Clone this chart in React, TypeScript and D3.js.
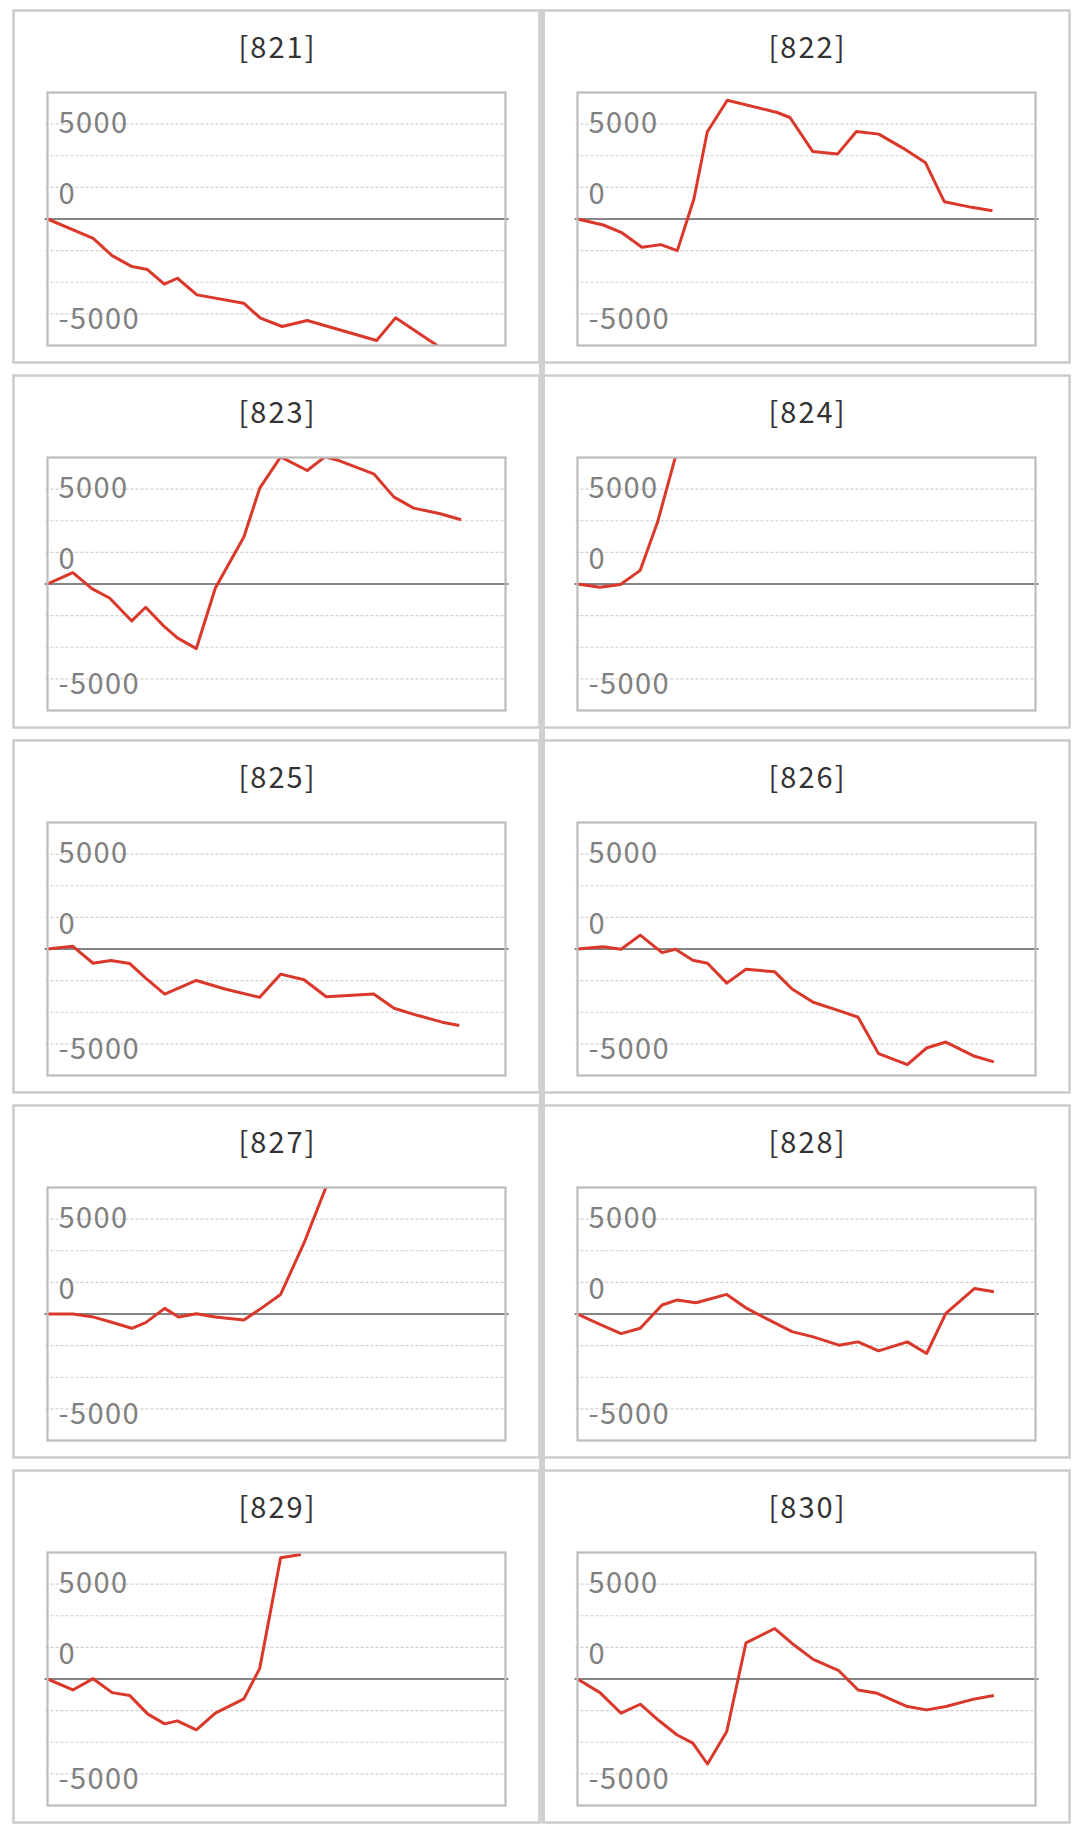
import React, { useEffect, useRef } from "react";
import * as d3 from "d3";

// machine numbers, one panel each (two columns, five rows)
const machineIds = ["821", "822", "823", "824", "825", "826", "827", "828", "829", "830"];

// games played (x) and coin difference (y) per machine
const games821 = [0, 798, 1128, 1476, 1746, 2040, 2269, 2611, 3427, 3721, 4099, 4537, 5749, 6080, 6980];
const diff821 = [0, -1017, -1930, -2508, -2666, -3438, -3122, -3999, -4438, -5227, -5666, -5350, -6402, -5209, -7016];

const games822 = [0, 451, 782, 1125, 1456, 1744, 2033, 2268, 2617, 3489, 3711, 4108, 4541, 4872, 5263, 5684, 6075, 6406, 6887, 7248];
const diff822 = [0, -316, -737, -1491, -1351, -1666, 1052, 4596, 6262, 5613, 5350, 3561, 3420, 4613, 4473, 3736, 2982, 912, 614, 439];

const games823 = [0, 443, 775, 1084, 1472, 1715, 2047, 2268, 2600, 2932, 3430, 3707, 4072, 4537, 4846, 5090, 5698, 6053, 6396, 6860, 7225];
const diff823 = [0, 596, -246, -737, -1947, -1228, -2263, -2842, -3403, -210, 2473, 5052, 6700, 5981, 6700, 6507, 5806, 4578, 3999, 3701, 3385];

const games824 = [0, 392, 750, 1096, 1399, 1790];
const diff824 = [0, -175, -30, 719, 3262, 7577];

const games825 = [0, 443, 797, 1107, 1438, 1715, 2047, 2600, 3098, 3707, 4072, 4481, 4869, 5698, 6053, 6473, 6894, 7192];
const diff825 = [0, 140, -750, -611, -768, -1536, -2373, -1658, -2111, -2548, -1326, -1623, -2513, -2373, -3124, -3508, -3856, -4031];

const games826 = [0, 448, 761, 1096, 1477, 1712, 2014, 2271, 2607, 2943, 3446, 3748, 4117, 4565, 4901, 5259, 5762, 6098, 6434, 6937, 7273];
const diff826 = [0, 122, -17, 733, -192, -17, -593, -750, -1797, -1064, -1204, -2111, -2809, -3246, -3595, -5514, -6090, -5218, -4903, -5654, -5950];

const games827 = [0, 443, 775, 1107, 1472, 1715, 2047, 2290, 2600, 2932, 3430, 3707, 4072, 4481, 4924];
const diff827 = [0, 0, -140, -420, -752, -455, 297, -157, 17, -157, -315, 245, 1032, 3743, 7136];

const games828 = [0, 392, 761, 1096, 1477, 1734, 2070, 2607, 2965, 3301, 3748, 4117, 4565, 4901, 5259, 5762, 6098, 6434, 6937, 7273];
const diff828 = [0, -542, -1032, -752, 472, 735, 595, 1032, 280, -245, -927, -1207, -1644, -1469, -1941, -1469, -2081, 35, 1347, 1172];

const games829 = [0, 443, 797, 1129, 1438, 1748, 2047, 2268, 2600, 2932, 3430, 3707, 4072, 4426];
const diff829 = [0, -578, 17, -718, -875, -1838, -2363, -2205, -2678, -1803, -1050, 560, 6388, 6563];

const games830 = [0, 392, 761, 1096, 1421, 1734, 2014, 2271, 2607, 2943, 3446, 3748, 4117, 4565, 4901, 5236, 5762, 6098, 6434, 6937, 7273];
const diff830 = [0, -718, -1803, -1330, -2188, -2940, -3378, -4480, -2765, 1908, 2660, 1873, 1033, 438, -578, -753, -1453, -1628, -1453, -1050, -875];

const gamesList = [games821, games822, games823, games824, games825, games826, games827, games828, games829, games830];
const diffList = [diff821, diff822, diff823, diff824, diff825, diff826, diff827, diff828, diff829, diff830];

// axis
const gameDomain = [0, 8000];
const diffDomain = [-20000 / 3, 20000 / 3];
const gridStep = 5000 / 3;
const yLabelValues = [5000, 0, -5000];
const yLabelTexts = ["5000", "0", "-5000"];

const WIDTH = 1081;
const HEIGHT = 1831;

const SlotGraphs: React.FC = () => {
  const svgRef = useRef<SVGSVGElement>(null);

  useEffect(() => {
    if (!svgRef.current) return;
    const svg = d3.select(svgRef.current);
    svg.selectAll("*").remove();

    const font = "'Noto Sans CJK JP', 'Noto Sans', sans-serif";
    const panelW = 526;
    const panelH = 352;
    const colPitch = 530;
    const rowPitch = 365;
    const plotLeft = 34; // relative to panel
    const plotTop = 82;
    const plotW = 458;
    const plotH = 253;
    // baseline offsets for the y labels (they sit a little off their lines)
    const labelShift = [9, -15.5, 15.5];

    svg.append("rect").attr("width", WIDTH).attr("height", HEIGHT).attr("fill", "#fff");

    const defs = svg.append("defs");

    machineIds.forEach((id, i) => {
      const col = i % 2;
      const row = Math.floor(i / 2);
      const px = 13.5 + col * colPitch;
      const py = 10.5 + row * rowPitch;

      const g = svg.append("g").attr("transform", `translate(${px}, ${py})`);

      // panel frame
      g.append("rect")
        .attr("width", panelW)
        .attr("height", panelH)
        .attr("fill", "#fff")
        .attr("stroke", "#cccccc")
        .attr("stroke-width", 2.5);

      // title
      g.append("text")
        .attr("x", panelW / 2 + 1)
        .attr("y", 47)
        .attr("text-anchor", "middle")
        .style("font-family", font)
        .style("font-size", "29px")
        .style("letter-spacing", "2px")
        .style("fill", "#333")
        .text(`[${id}]`);

      const x = d3.scaleLinear().domain(gameDomain).range([plotLeft, plotLeft + plotW]);
      const y = d3.scaleLinear().domain(diffDomain).range([plotTop + plotH, plotTop]);

      // dashed gridlines
      const grid = d3.range(-3, 4).filter((k) => k !== 0).map((k) => k * gridStep);
      g.selectAll(".grid")
        .data(grid)
        .enter()
        .append("line")
        .attr("class", "grid")
        .attr("x1", plotLeft - 2)
        .attr("x2", plotLeft + plotW)
        .attr("y1", (d) => y(d))
        .attr("y2", (d) => y(d))
        .attr("stroke", "#d0d0d0")
        .attr("stroke-width", 1.2)
        .attr("stroke-dasharray", "3,2");

      // y labels
      g.selectAll(".ylab")
        .data(yLabelValues)
        .enter()
        .append("text")
        .attr("class", "ylab")
        .attr("x", plotLeft + 11)
        .attr("y", (d, k) => y(d) + labelShift[k])
        .style("font-family", font)
        .style("font-size", "29px")
        .style("letter-spacing", "1.4px")
        .style("fill", "#808080")
        .text((d, k) => yLabelTexts[k]);

      // zero baseline
      g.append("line")
        .attr("x1", plotLeft - 3)
        .attr("x2", plotLeft + plotW + 3)
        .attr("y1", y(0))
        .attr("y2", y(0))
        .attr("stroke", "#858585")
        .attr("stroke-width", 2.2);

      // series line, clipped to the plot (clip rect in the group's own coordinates)
      const clipId = `clip-${id}`;
      defs.append("clipPath")
        .attr("id", clipId)
        .append("rect")
        .attr("x", plotLeft)
        .attr("y", plotTop)
        .attr("width", plotW)
        .attr("height", plotH);

      const games = gamesList[i];
      const diffs = diffList[i];
      const pts: [number, number][] = games.map((gm, k) => [gm, diffs[k]]);
      const line = d3
        .line<[number, number]>()
        .x((d) => x(d[0]))
        .y((d) => y(d[1]));

      g.append("path")
        .attr("clip-path", `url(#${clipId})`)
        .datum(pts)
        .attr("d", line)
        .attr("fill", "none")
        .attr("stroke", "#d9382b")
        .attr("stroke-width", 3)
        .attr("stroke-linejoin", "round");

      // plot frame on top
      g.append("rect")
        .attr("x", plotLeft)
        .attr("y", plotTop)
        .attr("width", plotW)
        .attr("height", plotH)
        .attr("fill", "none")
        .attr("stroke", "#bdbdbd")
        .attr("stroke-width", 2.2);
    });

    // thick separator between the two columns
    svg.append("rect")
      .attr("x", 539)
      .attr("y", 9)
      .attr("width", 6)
      .attr("height", 1814)
      .attr("fill", "#d0d0d0");
  }, []);

  return (
    <svg
      ref={svgRef}
      width={WIDTH}
      height={HEIGHT}
      viewBox={`0 0 ${WIDTH} ${HEIGHT}`}
      style={{ position: "absolute", left: 0, top: 0, display: "block" }}
    />
  );
};

export default function App() {
  return <SlotGraphs />;
}
